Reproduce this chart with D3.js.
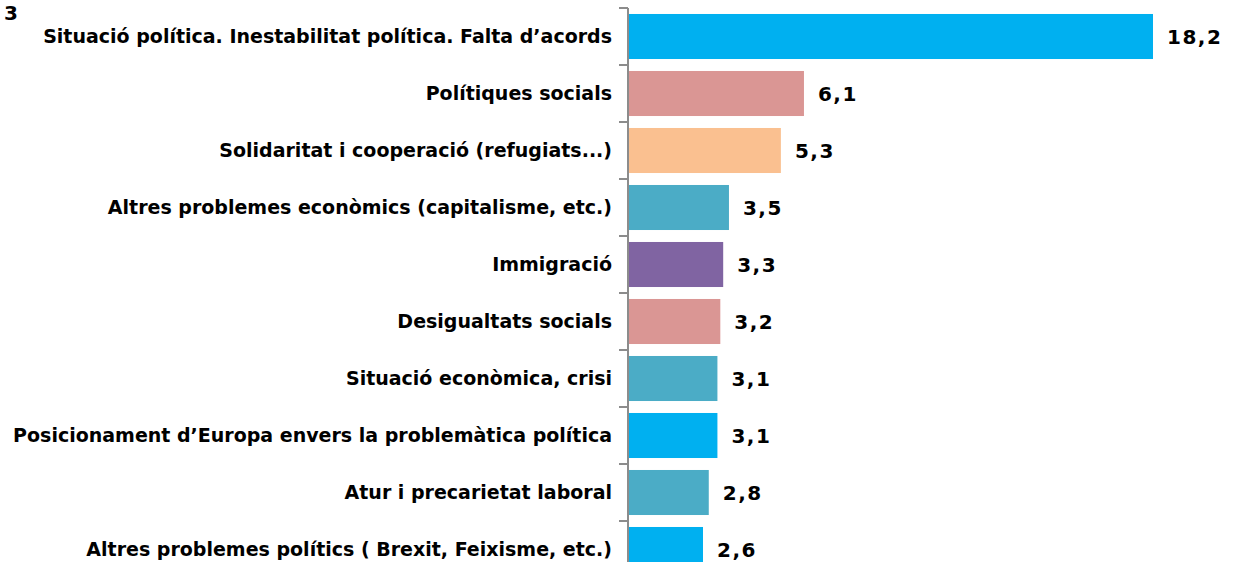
<!DOCTYPE html>
<html>
<head>
<meta charset="utf-8">
<script src="https://cdn.jsdelivr.net/npm/d3@7"></script>
<style>
  body { margin: 0; background: #fff; }
  svg { display: block; }
  .cat { font-family: "DejaVu Sans", sans-serif; font-size: 19px; font-weight: bold; fill: #000; }
  .val { font-family: "DejaVu Sans", sans-serif; font-size: 20px; font-weight: bold; fill: #000; letter-spacing: 1.5px; }
</style>
</head>
<body>
<svg width="1240" height="562"></svg>
<script>
const categories = [
  "Situació política. Inestabilitat política. Falta d’acords",
  "Polítiques socials",
  "Solidaritat i cooperació (refugiats...)",
  "Altres problemes econòmics (capitalisme, etc.)",
  "Immigració",
  "Desigualtats socials",
  "Situació econòmica, crisi",
  "Posicionament d’Europa envers la problemàtica política",
  "Atur i precarietat laboral",
  "Altres problemes polítics ( Brexit, Feixisme, etc.)"
]
const values = [18.2, 6.1, 5.3, 3.5, 3.3, 3.2, 3.1, 3.1, 2.8, 2.6]
const barColors = ["#00B0F0", "#DA9694", "#FAC090", "#4BACC6", "#8064A2",
                   "#DA9694", "#4BACC6", "#00B0F0", "#4BACC6", "#00B0F0"]
const cornerLabel = "3"

const AXIS_X = 628
const TOP = 8
const BAND = 57

const svg = d3.select("svg")

const x = d3.scaleLinear()
  .domain([0, 18.2])
  .range([AXIS_X, 1153])

const y = d3.scaleBand()
  .domain(categories)
  .range([TOP, TOP + BAND * categories.length])
  .paddingInner(0.21)
  .paddingOuter(0.105)

// bars
svg.append("g").selectAll("rect")
  .data(values)
  .join("rect")
  .attr("x", x(0))
  .attr("y", (d, i) => y(categories[i]))
  .attr("width", d => x(d) - x(0))
  .attr("height", y.bandwidth())
  .attr("fill", (d, i) => barColors[i])

// axis line with ticks between categories
const axis = svg.append("g")
axis.append("line")
  .attr("x1", AXIS_X).attr("x2", AXIS_X)
  .attr("y1", TOP).attr("y2", TOP + BAND * categories.length)
  .attr("stroke", "#8c8c8c").attr("stroke-width", 2)
axis.selectAll(".tick")
  .data(d3.range(categories.length + 1))
  .join("line")
  .attr("class", "tick")
  .attr("x1", AXIS_X - 9).attr("x2", AXIS_X)
  .attr("y1", i => TOP + i * BAND).attr("y2", i => TOP + i * BAND)
  .attr("stroke", "#8c8c8c").attr("stroke-width", 2)

// category labels
svg.append("g").selectAll("text")
  .data(categories)
  .join("text")
  .attr("class", "cat")
  .attr("x", AXIS_X - 16)
  .attr("y", d => y(d) + y.bandwidth() / 2)
  .attr("dy", "0.35em")
  .attr("text-anchor", "end")
  .text(d => d)

// value labels
svg.append("g").selectAll("text")
  .data(values)
  .join("text")
  .attr("class", "val")
  .attr("x", d => x(d) + 14)
  .attr("y", (d, i) => y(categories[i]) + y.bandwidth() / 2)
  .attr("dy", "0.36em")
  .text(d => d3.format(".1f")(d).replace(".", ","))

svg.append("text")
  .attr("x", 4).attr("y", 20)
  .style("font-family", "DejaVu Sans, sans-serif")
  .style("font-size", "20px")
  .style("font-weight", "bold")
  .text(cornerLabel)
</script>
</body>
</html>
